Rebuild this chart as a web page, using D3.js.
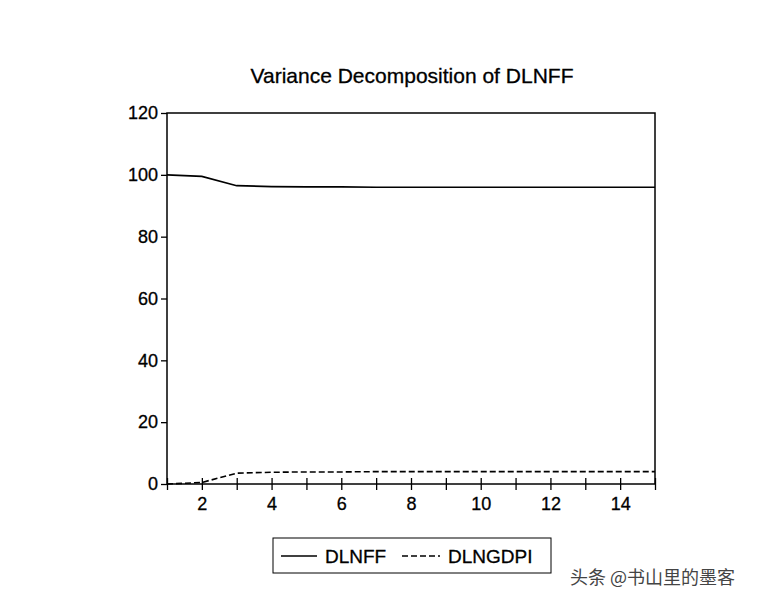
<!DOCTYPE html>
<html><head><meta charset="utf-8">
<script src="https://cdn.jsdelivr.net/npm/d3@7"></script>
<style>body{margin:0;background:#fff}</style></head>
<body><svg id="c" width="772" height="605"></svg>
<script>
const periods = [1,2,3,4,5,6,7,8,9,10,11,12,13,14,15];
const dlnff = [100,99.5,96.5,96.2,96.1,96.1,96.0,96.0,96.0,96.0,96.0,96.0,96.0,96.0,96.0];
const dlngdpi = [0,0.5,3.5,3.8,3.9,3.9,4.0,4.0,4.0,4.0,4.0,4.0,4.0,4.0,4.0];
const yTicks = [0,20,40,60,80,100,120];
const xTicks = [2,4,6,8,10,12,14];
const svg = d3.select("#c");
const font = "Liberation Sans, Arial, sans-serif";
const L=167,R=655,T=113,B=484;
const x = d3.scaleLinear().domain([1,15]).range([L,R]);
const y = d3.scaleLinear().domain([0,120]).range([B,T]);
svg.append("text").attr("x",412).attr("y",83).attr("text-anchor","middle")
  .attr("font-family",font).attr("font-size",21).attr("stroke","#000").attr("stroke-width",0.3).text("Variance Decomposition of DLNFF");
svg.append("rect").attr("x",L).attr("y",T).attr("width",R-L).attr("height",B-T)
  .attr("fill","none").attr("stroke","#000").attr("stroke-width",1.5);
const ya = svg.append("g").attr("transform",`translate(${L},0)`)
  .call(d3.axisLeft(y).tickValues(yTicks).tickSize(6).tickPadding(3));
ya.select(".domain").remove();
ya.selectAll("line").attr("stroke-width",1.3);
ya.selectAll("text").attr("font-family",font).attr("font-size",18).attr("fill","#000").attr("stroke","#000").attr("stroke-width",0.3);
const xa = svg.append("g").attr("transform",`translate(0,${B})`)
  .call(d3.axisBottom(x).tickValues(periods).tickSize(6).tickFormat(d=>xTicks.includes(d)?d:""));
xa.select(".domain").remove();
xa.selectAll("line").attr("y1",-6).attr("y2",6).attr("stroke-width",1.3);
xa.selectAll("text").attr("y",13).attr("font-family",font).attr("font-size",18).attr("fill","#000").attr("stroke","#000").attr("stroke-width",0.3);
const line = d3.line().x((d,i)=>x(periods[i])).y(d=>y(d));
svg.append("path").datum(dlnff).attr("d",line).attr("fill","none").attr("stroke","#000").attr("stroke-width",1.6);
svg.append("path").datum(dlngdpi).attr("d",line).attr("fill","none").attr("stroke","#000").attr("stroke-width",1.6).attr("stroke-dasharray","6,3");
const lg = svg.append("g");
lg.append("rect").attr("x",273).attr("y",538).attr("width",278).attr("height",35).attr("fill","none").attr("stroke","#000");
lg.append("line").attr("x1",281).attr("x2",317).attr("y1",556).attr("y2",556).attr("stroke","#000").attr("stroke-width",1.5);
lg.append("text").attr("x",325).attr("y",563).attr("font-family",font).attr("font-size",19).attr("stroke","#000").attr("stroke-width",0.3).text("DLNFF");
lg.append("line").attr("x1",402).attr("x2",440).attr("y1",556).attr("y2",556).attr("stroke","#000").attr("stroke-width",1.5).attr("stroke-dasharray","6,3");
lg.append("text").attr("x",448).attr("y",563).attr("font-family",font).attr("font-size",19).attr("stroke","#000").attr("stroke-width",0.3).text("DLNGDPI");
svg.append("text").attr("x",570).attr("y",584).attr("font-family","Noto Sans CJK SC").attr("font-size",18).attr("fill","#444").text("头条 @书山里的墨客");
</script></body></html>
